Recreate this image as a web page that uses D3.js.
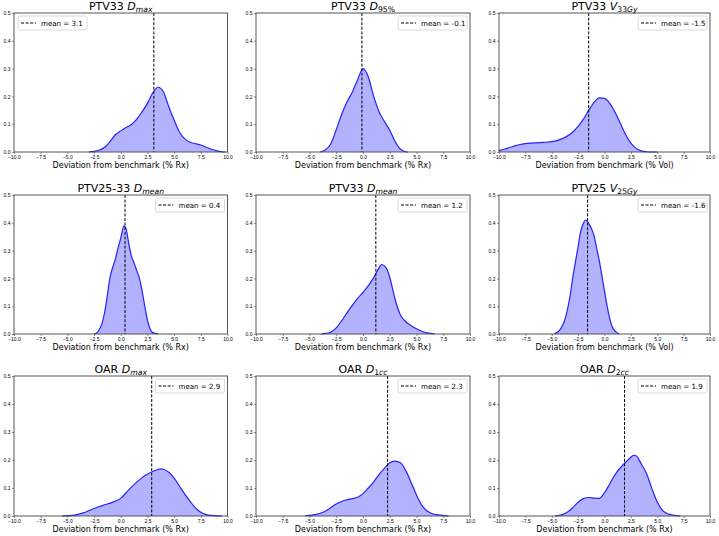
<!DOCTYPE html>
<html>
<head>
<meta charset="utf-8">
<script src="https://cdn.jsdelivr.net/npm/d3@7"></script>
<style>
body{margin:0;background:#fff;}
svg{display:block;font-family:"DejaVu Sans",sans-serif;}
.tick text{font-size:5px;fill:#000;}
.tick line{stroke:#444;stroke-width:0.6;}
.domain{display:none;}
</style>
</head>
<body>
<svg id="canvas" width="719" height="536"></svg>
<script>
// kde curves, one x / y pair per panel
let ptv33DmaxX=[-3.0,-2.5,-2.0,-1.5,-1.0,-0.5,0.0,0.5,1.0,1.5,2.0,2.5,3.0,3.5,4.0,4.5,5.0,5.5,6.0,6.5,7.0,7.5,8.0,8.5,9.0,9.5,9.8];
let ptv33DmaxY=[0,0.002,0.007,0.017,0.038,0.062,0.076,0.088,0.099,0.118,0.145,0.175,0.213,0.233,0.216,0.163,0.115,0.072,0.047,0.035,0.030,0.025,0.017,0.010,0.004,0.001,0];
let ptv33D95X=[-4.0,-3.5,-3.0,-2.5,-2.0,-1.5,-1.0,-0.5,0.0,0.5,1.0,1.5,2.0,2.5,3.0,3.5,4.0,4.2];
let ptv33D95Y=[0,0.008,0.030,0.080,0.135,0.180,0.215,0.260,0.300,0.270,0.200,0.145,0.110,0.078,0.038,0.010,0.001,0];
let ptv33V33X=[-10,-9.5,-9,-8.5,-8,-7.5,-7,-6.5,-6,-5.5,-5,-4.5,-4,-3.5,-3,-2.5,-2,-1.5,-1,-0.5,0,0.5,1,1.5,2,2.5,3,3.5,4,4.5,5];
let ptv33V33Y=[0.005,0.010,0.016,0.022,0.027,0.030,0.032,0.033,0.034,0.035,0.037,0.041,0.048,0.058,0.072,0.092,0.118,0.150,0.178,0.195,0.193,0.175,0.143,0.103,0.063,0.032,0.013,0.004,0.001,0,0];
let ptv2533DmeanX=[-2.5,-2.25,-2.0,-1.75,-1.5,-1.25,-1.0,-0.75,-0.5,-0.25,0.0,0.3,0.5,0.75,1.0,1.25,1.5,1.75,2.0,2.25,2.5,2.75,3.0,3.5];
let ptv2533DmeanY=[0,0.004,0.016,0.038,0.080,0.140,0.205,0.240,0.270,0.310,0.345,0.389,0.378,0.325,0.280,0.255,0.228,0.200,0.155,0.100,0.050,0.018,0.005,0];
let ptv33DmeanX=[-3.9,-3.5,-3.0,-2.5,-2.0,-1.5,-1.0,-0.5,0.0,0.5,1.0,1.5,1.75,2.0,2.25,2.5,2.75,3.0,3.5,4.0,4.5,5.0,5.5,6.0,6.7];
let ptv33DmeanY=[0,0.002,0.007,0.022,0.047,0.076,0.103,0.128,0.150,0.174,0.203,0.238,0.250,0.245,0.232,0.204,0.165,0.125,0.068,0.044,0.030,0.019,0.010,0.004,0];
let ptv25V25X=[-4.75,-4.5,-4.25,-4.0,-3.75,-3.5,-3.25,-3.0,-2.75,-2.5,-2.25,-2.0,-1.8,-1.5,-1.25,-1.0,-0.75,-0.5,-0.25,0.0,0.25,0.5,0.75,1.0,1.4];
let ptv25V25Y=[0,0.006,0.014,0.030,0.052,0.090,0.140,0.205,0.260,0.315,0.370,0.398,0.410,0.398,0.380,0.355,0.310,0.265,0.210,0.155,0.100,0.055,0.024,0.010,0];
let oarDmaxX=[-5.5,-5.0,-4.5,-4.0,-3.5,-3.0,-2.5,-2.0,-1.5,-1.0,-0.5,0.0,0.5,1.0,1.5,2.0,2.5,3.0,3.5,3.8,4.0,4.5,5.0,5.5,6.0,6.5,7.0,7.5,8.0,8.5,9.0,9.5];
let oarDmaxY=[0,0.001,0.002,0.006,0.011,0.019,0.027,0.034,0.040,0.046,0.053,0.063,0.083,0.103,0.121,0.137,0.150,0.159,0.166,0.168,0.167,0.156,0.135,0.107,0.078,0.052,0.029,0.013,0.005,0.002,0.0005,0];
let oarD1ccX=[-5.4,-5.0,-4.5,-4.0,-3.5,-3.0,-2.5,-2.0,-1.5,-1.0,-0.5,0.0,0.5,1.0,1.5,2.0,2.5,3.0,3.5,4.0,4.5,5.0,5.5,6.0,6.5,7.0,8.0];
let oarD1ccY=[0,0.002,0.005,0.010,0.018,0.030,0.043,0.052,0.058,0.062,0.067,0.080,0.100,0.122,0.148,0.170,0.190,0.196,0.190,0.162,0.120,0.075,0.038,0.018,0.008,0.004,0];
let oarD2ccX=[-4.7,-4.0,-3.5,-3.0,-2.5,-2.0,-1.5,-1.0,-0.5,0.0,0.5,1.0,1.5,2.0,2.5,2.8,3.0,3.5,4.0,4.5,5.0,5.5,6.0,6.5,7.2];
let oarD2ccY=[0,0.005,0.014,0.030,0.049,0.062,0.066,0.064,0.063,0.083,0.115,0.148,0.172,0.192,0.210,0.217,0.215,0.185,0.150,0.097,0.050,0.020,0.008,0.003,0];

let curveX=[ptv33DmaxX,ptv33D95X,ptv33V33X,ptv2533DmeanX,ptv33DmeanX,ptv25V25X,oarDmaxX,oarD1ccX,oarD2ccX];
let curveY=[ptv33DmaxY,ptv33D95Y,ptv33V33Y,ptv2533DmeanY,ptv33DmeanY,ptv25V25Y,oarDmaxY,oarD1ccY,oarD2ccY];
let means=[3.1,-0.1,-1.5,0.4,1.2,-1.6,2.9,2.3,1.9];
let titlePre=["PTV33 ","PTV33 ","PTV33 ","PTV25-33 ","PTV33 ","PTV25 ","OAR ","OAR ","OAR "];
let titleSym=["D","D","V","D","D","V","D","D","D"];
let titleSub=["max","95%","33Gy","mean","mean","25Gy","max","1cc","2cc"];
let units=["% Rx","% Rx","% Vol","% Rx","% Rx","% Vol","% Rx","% Rx","% Rx"];
let legendLeft=[true,false,false,false,false,false,false,false,false];
let xTicks=[-10,-7.5,-5,-2.5,0,2.5,5,7.5,10];
let yTicks=[0,0.1,0.2,0.3,0.4,0.5];

// layout
let cols=[[14,227.5],[256,470],[499,710]];
let rows=[[13,152],[195,334],[376,516]];

let canvas=d3.select("#canvas");
let fmt=d3.format(".1f");

curveX.forEach((xs,i)=>{
    let c=cols[i%3], r=rows[Math.floor(i/3)];
    let xScale=d3.scaleLinear().domain([-10,10]).range(c);
    let yScale=d3.scaleLinear().domain([0,0.5]).range([r[1],r[0]]);
    let g=canvas.append("g");
    let pts=xs.map((x,j)=>[x,curveY[i][j]]);

    g.append("path").datum(pts)
        .attr("d",d3.area().x(d=>xScale(d[0])).y0(yScale(0)).y1(d=>yScale(d[1])).curve(d3.curveMonotoneX))
        .attr("fill","rgba(0,0,255,0.3)");
    g.append("path").datum(pts)
        .attr("d",d3.line().x(d=>xScale(d[0])).y(d=>yScale(d[1])).curve(d3.curveMonotoneX))
        .attr("fill","none").attr("stroke","#2222ff").attr("stroke-width",1.2);

    g.append("line").attr("x1",xScale(means[i])).attr("x2",xScale(means[i]))
        .attr("y1",r[0]).attr("y2",r[1])
        .attr("stroke","#000").attr("stroke-width",1).attr("stroke-dasharray","3,1.6");

    g.append("g").attr("transform","translate(0,"+r[1]+")")
        .call(d3.axisBottom(xScale).tickValues(xTicks).tickFormat(fmt).tickSize(2).tickPadding(1.5));
    g.append("g").attr("transform","translate("+c[0]+",0)")
        .call(d3.axisLeft(yScale).tickValues(yTicks).tickFormat(fmt).tickSize(2).tickPadding(1.5));

    g.append("rect").attr("x",c[0]).attr("y",r[0]).attr("width",c[1]-c[0]).attr("height",r[1]-r[0])
        .attr("fill","none").attr("stroke","#444").attr("stroke-width",0.9);

    // title with mathtext-like subscript
    let t=g.append("text").attr("x",(c[0]+c[1])/2).attr("y",r[0]-3.5)
        .attr("text-anchor","middle").style("font-size","11px");
    t.append("tspan").text(titlePre[i]);
    t.append("tspan").text(titleSym[i]).style("font-style","italic");
    let parts=titleSub[i].match(/[0-9%]+|[A-Za-z]+/g);
    parts.forEach((p,k)=>{
        let s=t.append("tspan").text(p).style("font-size","7.7px")
            .style("font-style",/[A-Za-z]/.test(p)?"italic":"normal");
        if(k==0) s.attr("dy",2.5);
    });

    g.append("text").attr("x",(c[0]+c[1])/2).attr("y",r[1]+15.5)
        .attr("text-anchor","middle").style("font-size","8px")
        .text("Deviation from benchmark ("+units[i]+")");

    // legend
    let lw=69, lh=14;
    let lx=legendLeft[i]?c[0]+4:c[1]-3-lw, ly=r[0]+3;
    g.append("rect").attr("x",lx).attr("y",ly).attr("width",lw).attr("height",lh).attr("rx",1.5)
        .attr("fill","#fff").attr("fill-opacity",0.8).attr("stroke","#d0d0d0").attr("stroke-width",0.8);
    g.append("line").attr("x1",lx+3).attr("x2",lx+18).attr("y1",ly+lh/2).attr("y2",ly+lh/2)
        .attr("stroke","#000").attr("stroke-width",1).attr("stroke-dasharray","3,1.6");
    g.append("text").attr("x",lx+23).attr("y",ly+lh/2+2.5).style("font-size","7.1px")
        .text("mean = "+fmt(means[i]).replace("\u2212","-"));
});
</script>
</body>
</html>
